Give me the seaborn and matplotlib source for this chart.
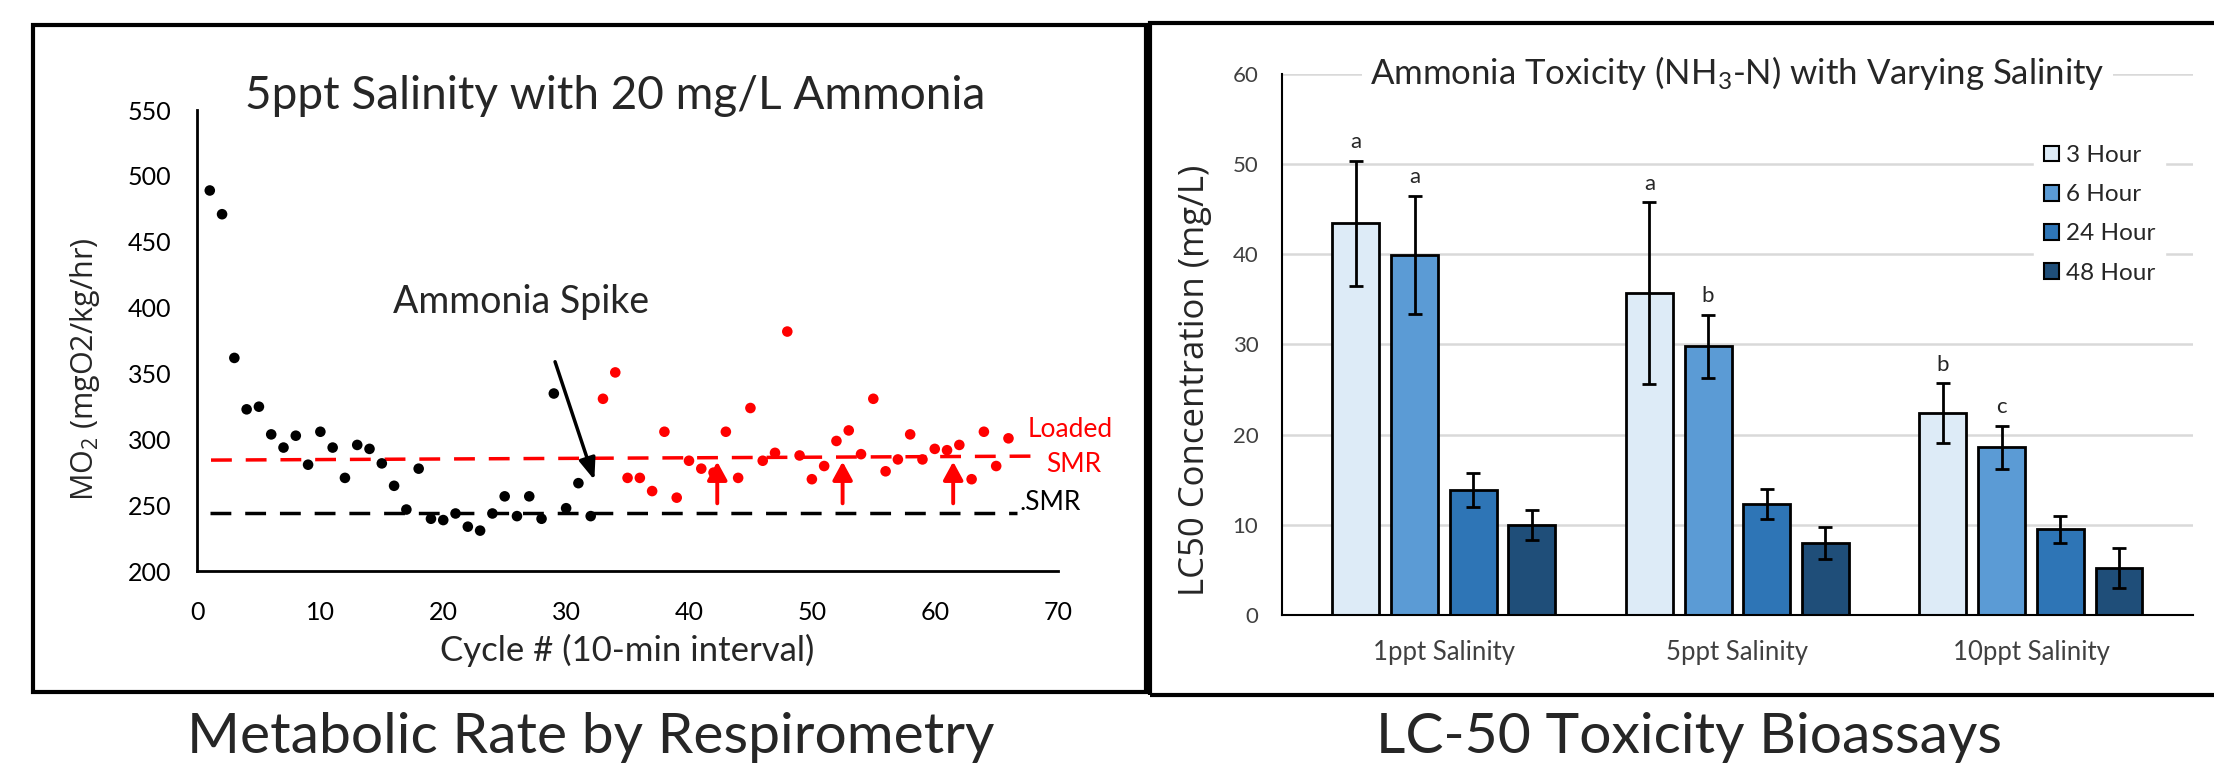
import numpy as np
import pandas as pd
import matplotlib
matplotlib.use("Agg")
import matplotlib.pyplot as plt
import matplotlib.transforms as mtransforms
from matplotlib.patches import Rectangle, Patch
import seaborn as sns

sns.set_theme(style="white")
plt.rcParams['font.family'] = ['Lato', 'DejaVu Sans']
plt.rcParams['mathtext.default'] = 'regular'

# ---- left panel: respirometry ----
cycle = list(range(1, 67))
mo2 = [489, 471, 362, 323, 325, 304, 294, 303, 281, 306, 294, 271, 296, 293, 282, 265,
       247, 278, 240, 239, 244, 234, 231, 244, 257, 242, 257, 240, 335, 248, 267, 242,
       331, 351, 271, 271, 261, 306, 256, 284, 278, 275, 306, 271, 324, 284, 290, 382,
       288, 270, 280, 299, 307, 289, 331, 276, 285, 304, 285, 293, 292, 296, 270, 306,
       280, 301]
phase = ['Baseline'] * 32 + ['Ammonia'] * 34

smr_x = [1.0, 66.7]
smr_y = [244.2, 244.2]
loaded_x = [1.1, 68.1]
loaded_y = [284.5, 287.5]
arrow_x = [42.3, 52.5, 61.5]
arrow_base, arrow_top = 251.7, 283.3
spike_from = (29.1, 359.1)
spike_to = (32.3, 269.4)

# ---- right panel: LC50 ----
salinity = ['1ppt Salinity', '5ppt Salinity', '10ppt Salinity']
durations = ['3 Hour', '6 Hour', '24 Hour', '48 Hour']
lc50_3h = [43.4, 35.7, 22.4]
lc50_6h = [39.9, 29.8, 18.6]
lc50_24h = [13.9, 12.3, 9.5]
lc50_48h = [10.0, 8.0, 5.2]
err_3h = [6.9, 10.05, 3.3]
err_6h = [6.55, 3.5, 2.4]
err_24h = [1.9, 1.65, 1.5]
err_48h = [1.65, 1.75, 2.2]
letters_3h = ['a', 'a', 'b']
letters_6h = ['a', 'b', 'c']
bar_colors = ['#DDEBF7', '#5B9BD5', '#2E75B6', '#1F4E79']

df1 = pd.DataFrame({'cycle': cycle, 'mo2': mo2, 'phase': phase})

vals = {'3 Hour': lc50_3h, '6 Hour': lc50_6h, '24 Hour': lc50_24h, '48 Hour': lc50_48h}
errs = {'3 Hour': err_3h, '6 Hour': err_6h, '24 Hour': err_24h, '48 Hour': err_48h}
letters = {'3 Hour': letters_3h, '6 Hour': letters_6h}
rows = []
for d in durations:
    for s, v in zip(salinity, vals[d]):
        rows.append({'salinity': s, 'duration': d, 'lc50': v})
df2 = pd.DataFrame(rows)

fig = plt.figure(figsize=(22.14, 7.67), dpi=100)
fig.patch.set_facecolor('white')

# panel frames
fig.add_artist(Rectangle((0.0149, 0.0978), 0.5027, 0.870, transform=fig.transFigure,
                         fill=False, ec='black', lw=3))
fig.add_artist(Rectangle((0.5194, 0.094), 0.49, 0.876, transform=fig.transFigure,
                         fill=False, ec='black', lw=3))

# ---------- left ----------
ax1 = fig.add_axes([0.0892, 0.2549, 0.3885, 0.6016])
sns.scatterplot(data=df1, x='cycle', y='mo2', hue='phase',
                palette={'Baseline': 'black', 'Ammonia': 'red'},
                s=58, linewidth=0, legend=False, ax=ax1, zorder=3)
ax1.plot(smr_x, smr_y, color='black', lw=2.5, ls=(0, (6, 4)), zorder=2)
ax1.plot(loaded_x, loaded_y, color='red', lw=2.5, ls=(0, (6, 4)), zorder=2)
for x in arrow_x:
    ax1.annotate('', xy=(x, arrow_top), xytext=(x, arrow_base),
                 arrowprops=dict(arrowstyle='-|>,head_width=0.3,head_length=0.55',
                                 color='red', lw=2.8, shrinkA=0, shrinkB=0,
                                 mutation_scale=20))
ax1.annotate('', xy=spike_to, xytext=spike_from,
             arrowprops=dict(arrowstyle='-|>,head_width=0.25,head_length=0.65',
                             color='black', lw=2.5, shrinkA=0, shrinkB=0,
                             mutation_scale=20))
ax1.text(26.3, 396, 'Ammonia Spike', ha='center', va='baseline', fontsize=27)
ax1.text(71.0, 307.6, 'Loaded', color='red', ha='center', va='center', fontsize=19)
ax1.text(71.3, 281, 'SMR', color='red', ha='center', va='center', fontsize=19)
ax1.text(66.9, 252, '.SMR', color='black', ha='left', va='center', fontsize=19)

ax1.set_xlim(0, 70)
ax1.set_ylim(200, 550)
ax1.set_xticks(range(0, 71, 10))
ax1.set_yticks(range(200, 551, 50))
ax1.tick_params(length=0, labelsize=18, colors='black')
ax1.tick_params(axis='x', pad=21)
ax1.tick_params(axis='y', pad=19)
for side in ['top', 'right']:
    ax1.spines[side].set_visible(False)
for side in ['left', 'bottom']:
    ax1.spines[side].set_color('black')
    ax1.spines[side].set_linewidth(2)
ax1.set_xlabel('Cycle # (10-min interval)', fontsize=25)
ax1.xaxis.label.set_va('baseline')
ax1.xaxis.set_label_coords(0.5, -0.193)
ax1.set_ylabel('MO$_2$ (mgO2/kg/hr)', fontsize=22, family=['Open Sans', 'DejaVu Sans'])
ax1.yaxis.label.set_va('baseline')
ax1.yaxis.set_label_coords(-0.122, 0.439)
fig.text(0.278, 0.8584, '5ppt Salinity with 20 mg/L Ammonia', ha='center',
         va='baseline', fontsize=33)

# ---------- right ----------
ax2 = fig.add_axes([0.579, 0.198, 0.4115, 0.7061])
ax2.set_axisbelow(True)
ax2.yaxis.grid(True, color='#d9d9d9', lw=1.8)
sns.barplot(data=df2, x='salinity', y='lc50', hue='duration', order=salinity,
            hue_order=durations, palette=bar_colors, saturation=1, errorbar=None,
            width=0.8, gap=0.2, edgecolor='black', linewidth=2, legend=False, ax=ax2)
for cont, d in zip(list(ax2.containers), durations):
    xs = [p.get_x() + p.get_width() / 2 for p in cont]
    ys = [p.get_height() for p in cont]
    ax2.errorbar(xs, ys, yerr=errs[d], fmt='none', ecolor='black', elinewidth=2,
                 capsize=5, capthick=2, zorder=4)
    if d in letters:
        for x, y, e, t in zip(xs, ys, errs[d], letters[d]):
            ax2.text(x, y + e + 1.4, t, ha='center', va='baseline', fontsize=16)

ax2.set_xlim(-0.552, 2.552)
ax2.set_ylim(0, 60)
ax2.set_yticks(range(0, 61, 10))
ax2.tick_params(length=0, labelsize=16, colors='#404040')
ax2.tick_params(axis='x', labelsize=18.5, pad=18)
ax2.tick_params(axis='y', pad=17)
for side in ['top', 'right']:
    ax2.spines[side].set_visible(False)
for side in ['left', 'bottom']:
    ax2.spines[side].set_color('black')
    ax2.spines[side].set_linewidth(1.5)
ax2.set_xlabel('')
ax2.set_ylabel('LC50 Concentration (mg/L)', fontsize=25, family=['Open Sans', 'DejaVu Sans'])
ax2.yaxis.label.set_va('baseline')
ax2.yaxis.set_label_coords(-0.086, 0.433)

trans = mtransforms.blended_transform_factory(ax2.transAxes, ax2.transData)
ax2.text(0.5, 58.8, 'Ammonia Toxicity (NH$_3$-N) with Varying Salinity', transform=trans,
         ha='center', va='baseline', fontsize=25, zorder=6,
         bbox=dict(fc='white', ec='none', pad=6))

handles = [Patch(facecolor=c, edgecolor='black', linewidth=1.5, label=d)
           for c, d in zip(bar_colors, durations)]
ax2.legend(handles=handles, loc='upper left', bbox_to_anchor=(0.8255, 0.886),
           frameon=True, facecolor='white', edgecolor='white', framealpha=1,
           fancybox=False, fontsize=17.5, handlelength=0.62, handleheight=0.62,
           handletextpad=0.3, labelspacing=0.75, borderpad=0.4, borderaxespad=0)

# captions
fig.text(0.267, 0.0177, 'Metabolic Rate by Respirometry', ha='center', va='baseline', fontsize=41)
fig.text(0.763, 0.0177, 'LC-50 Toxicity Bioassays', ha='center', va='baseline', fontsize=41)

fig.savefig('out.png', dpi=100, facecolor='white')
